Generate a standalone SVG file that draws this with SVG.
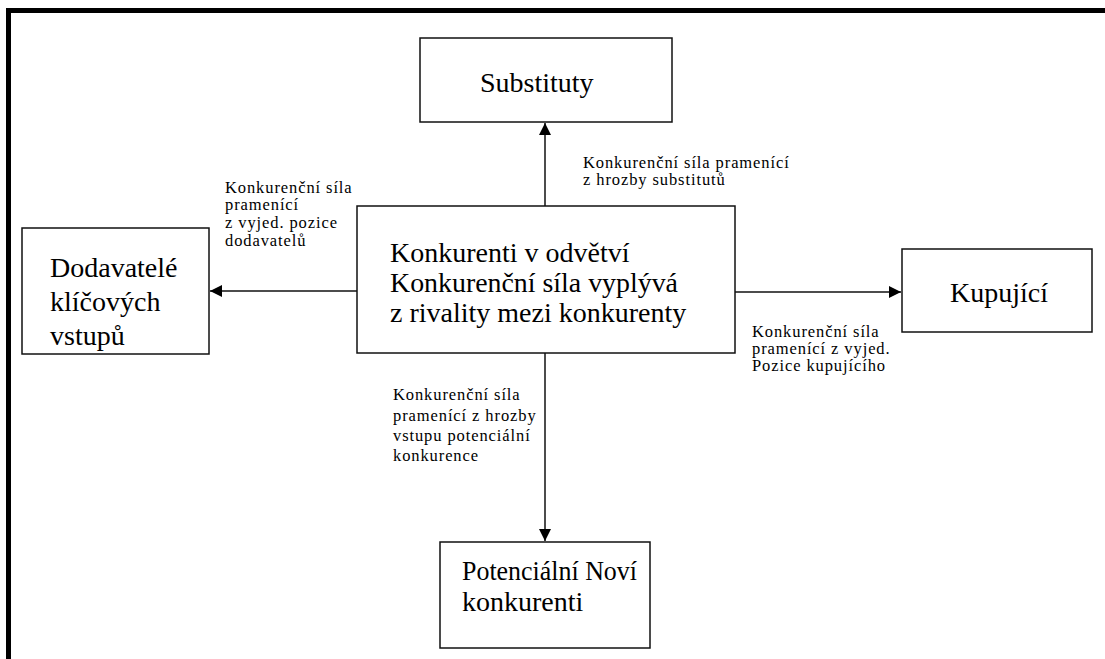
<svg xmlns="http://www.w3.org/2000/svg" width="1105" height="659" viewBox="0 0 1105 659">
<style>
.box{fill:#fff;stroke:#111;stroke-width:1.5}
.big{font-family:"Liberation Serif","Times New Roman",serif;font-size:28px;fill:#000}
.small{font-family:"Liberation Serif","Times New Roman",serif;font-size:16.5px;letter-spacing:0.9px;fill:#000}
.conn{stroke:#111;stroke-width:1.5;fill:none;marker-end:url(#arr)}
</style>
<defs>
<marker id="arr" markerWidth="12" markerHeight="12" viewBox="0 0 12 12" refX="12" refY="6" orient="auto" markerUnits="userSpaceOnUse">
<path d="M0,0 L12,6 L0,12 Z" fill="#000"/>
</marker>
</defs>
<rect width="1105" height="659" fill="#fff"/>
<g id="frame">
<rect x="6" y="8" width="1099" height="5" fill="#000"/>
<rect x="6" y="8" width="5" height="651" fill="#000"/>
</g>
<g id="connectors">
<line class="conn" x1="545" y1="206" x2="545" y2="123"/>
<line class="conn" x1="545" y1="353" x2="545" y2="541"/>
<line class="conn" x1="357" y1="291" x2="210" y2="291"/>
<line class="conn" x1="735" y1="292" x2="901" y2="292"/>
</g>
<g id="substituty">
<rect class="box" x="420" y="38" width="252" height="84"/>
<text class="big" x="480" y="92" font-size="27">Substituty</text>
</g>
<g id="dodavatele">
<rect class="box" x="22" y="228" width="187" height="126"/>
<text class="big" x="50" y="277">Dodavatelé</text>
<text class="big" x="50" y="311">klíčových</text>
<text class="big" x="50" y="345">vstupů</text>
</g>
<g id="konkurenti">
<rect class="box" x="357" y="206" width="378" height="147"/>
<text class="big" x="390" y="262">Konkurenti v odvětví</text>
<text class="big" x="390" y="292" textLength="288" lengthAdjust="spacingAndGlyphs">Konkurenční síla vyplývá</text>
<text class="big" x="390" y="322">z rivality mezi konkurenty</text>
</g>
<g id="kupujici">
<rect class="box" x="902" y="249" width="190" height="83"/>
<text class="big" x="950" y="302">Kupující</text>
</g>
<g id="potencialni">
<rect class="box" x="440" y="542" width="210" height="106"/>
<text class="big" x="462" y="580" textLength="175" lengthAdjust="spacingAndGlyphs">Potenciální Noví</text>
<text class="big" x="462" y="611">konkurenti</text>
</g>
<g id="labels">
<text class="small" x="583" y="168">Konkurenční síla pramenící</text>
<text class="small" x="583" y="185">z hrozby substitutů</text>
<text class="small" x="225" y="193">Konkurenční síla</text>
<text class="small" x="225" y="210">pramenící</text>
<text class="small" x="225" y="228">z vyjed. pozice</text>
<text class="small" x="225" y="246">dodavatelů</text>
<text class="small" x="752" y="337">Konkurenční síla</text>
<text class="small" x="752" y="354">pramenící z vyjed.</text>
<text class="small" x="752" y="371">Pozice kupujícího</text>
<text class="small" x="393" y="400">Konkurenční síla</text>
<text class="small" x="393" y="421">pramenící z hrozby</text>
<text class="small" x="393" y="441">vstupu potenciální</text>
<text class="small" x="393" y="461">konkurence</text>
</g>
</svg>
